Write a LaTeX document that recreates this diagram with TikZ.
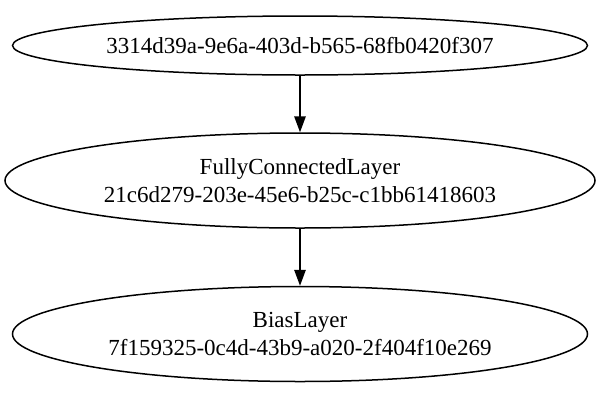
\documentclass[tikz,border=0pt]{standalone}
\usepackage{fontspec}
\setmainfont{Liberation Serif}
\usetikzlibrary{shapes.geometric,arrows.meta}
\tikzset{
  layer/.style={draw, ellipse, line width=1.5pt, inner sep=0pt,
    align=center, font=\fontsize{23}{27.6}\selectfont},
  flow/.style={line width=1.5pt, -{Triangle[length=16pt,width=11.5pt]}}
}
\begin{document}
\begin{tikzpicture}[x=1pt,y=-1pt]
  \useasboundingbox (0,0) rectangle (600,400);
  \node[layer, minimum width=575pt, minimum height=59pt] (src) at (300,45.5)
    {3314d39a-9e6a-403d-b565-68fb0420f307};
  \node[layer, minimum width=590pt, minimum height=95pt] (fc) at (300,180.5)
    {FullyConnectedLayer\\21c6d279-203e-45e6-b25c-c1bb61418603};
  \node[layer, minimum width=575pt, minimum height=95pt] (bias) at (300,334)
    {BiasLayer\\7f159325-0c4d-43b9-a020-2f404f10e269};
  \draw[flow] (src) -- (fc);
  \draw[flow] (fc) -- (bias);
\end{tikzpicture}
\end{document}
